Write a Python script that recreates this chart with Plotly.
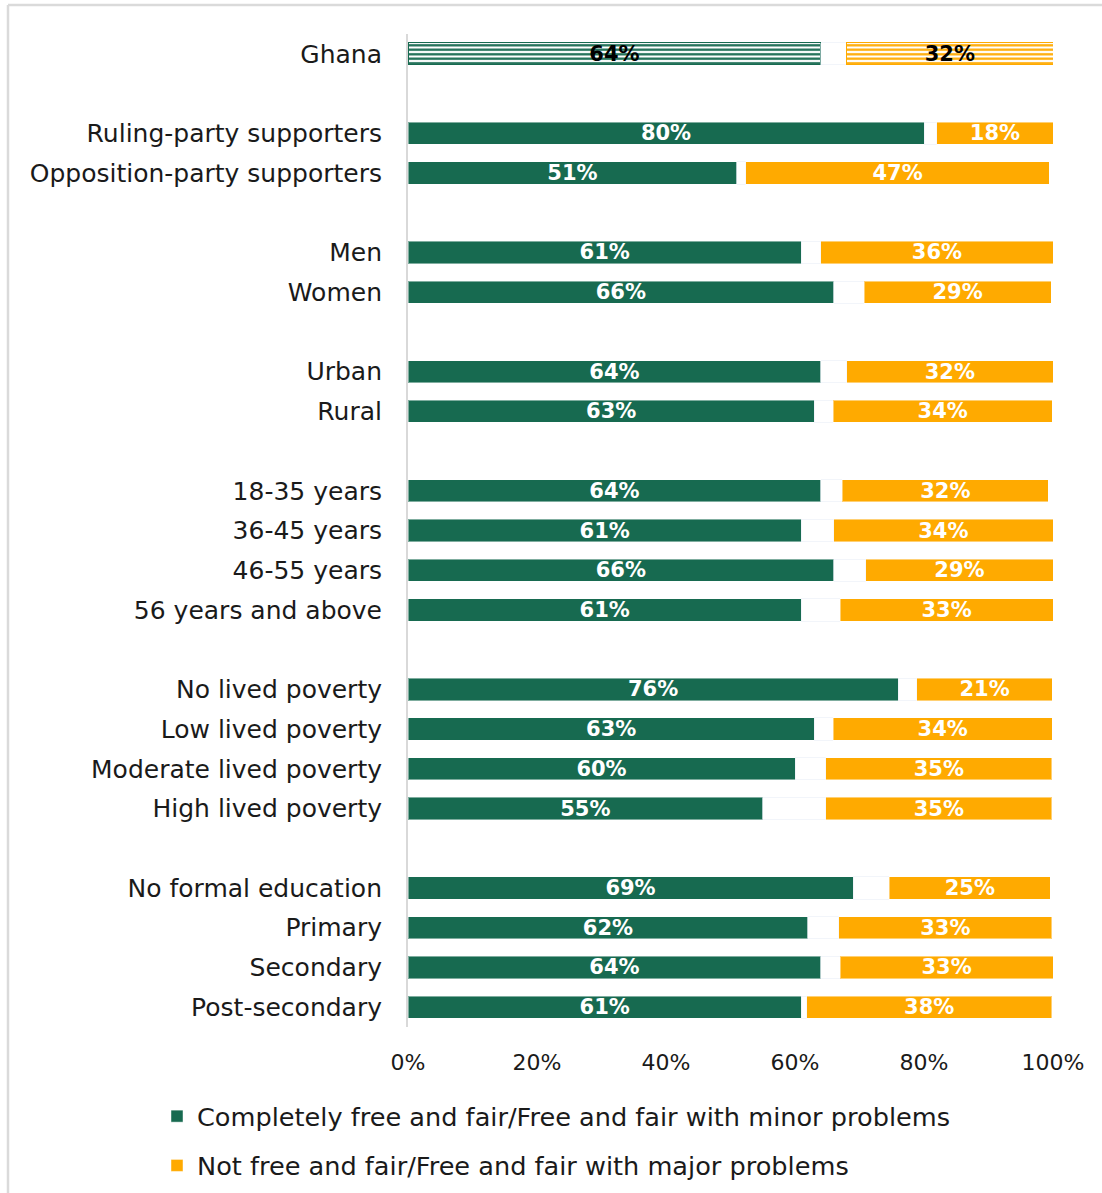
import plotly.graph_objects as go

# Row labels, grouped; a blank row separates consecutive groups
groups = [
    ["Ghana"],
    ["Ruling-party supporters", "Opposition-party supporters"],
    ["Men", "Women"],
    ["Urban", "Rural"],
    ["18-35 years", "36-45 years", "46-55 years", "56 years and above"],
    ["No lived poverty", "Low lived poverty", "Moderate lived poverty", "High lived poverty"],
    ["No formal education", "Primary", "Secondary", "Post-secondary"],
]

# Percentages per row (same order as the labels above)
free_fair = [64, 80, 51, 61, 66, 64, 63, 64, 61, 66, 61, 76, 63, 60, 55, 69, 62, 64, 61]
not_free = [32, 18, 47, 36, 29, 32, 34, 32, 34, 29, 33, 21, 34, 35, 35, 25, 33, 33, 38]
# Remaining responses (don't know / refused), left unlabelled between the two bars
other = [4, 2, 1.4, 3, 4.7, 4, 2.9, 3.3, 5, 5, 6, 2.9, 2.9, 4.8, 9.8, 5.6, 4.8, 3, 0.8]

series_names = [
    "Completely free and fair/Free and fair with minor problems",
    "Not free and fair/Free and fair with major problems",
]
x_ticks = [0, 20, 40, 60, 80, 100]

GREEN = "#176A50"
ORANGE = "#FFAA00"
FONT = "DejaVu Sans"

# Row positions on a numeric axis, leaving one empty slot between groups
labels, ypos = [], []
slot = 0
for g in groups:
    for name in g:
        labels.append(name)
        ypos.append(slot)
        slot += 1
    slot += 1
last_row = max(ypos)

ff_text = [f"{v}%" for v in free_fair]
nf_text = [f"{v}%" for v in not_free]

bar_w = 0.56
label_font = dict(color="white", family=FONT, size=21, weight="bold")
total_font = dict(color="black", family=FONT, size=21, weight="bold")
edge = dict(color="rgba(255,255,255,0.45)", width=1)
stripes = dict(shape="-", size=4.5, solidity=0.5, fgopacity=1,
               fillmode="replace", bgcolor="white")

fig = go.Figure()

# Sub-groups: solid bars with white labels
fig.add_trace(go.Bar(
    y=ypos[1:], x=free_fair[1:], text=ff_text[1:], orientation="h",
    name=series_names[0], marker=dict(color=GREEN, line=edge), width=bar_w,
    textposition="inside", insidetextanchor="middle", textangle=0,
    textfont=label_font, legendgroup="a", hoverinfo="skip",
))
# National total: striped bar with black label
fig.add_trace(go.Bar(
    y=ypos[:1], x=free_fair[:1], text=ff_text[:1], orientation="h",
    name=series_names[0],
    marker=dict(color=GREEN, line=dict(color=GREEN, width=1),
                pattern=dict(stripes, fgcolor=GREEN)),
    width=bar_w, textposition="inside", insidetextanchor="middle", textangle=0,
    textfont=total_font, legendgroup="a", showlegend=False, hoverinfo="skip",
))
# Invisible spacer for the remaining responses
fig.add_trace(go.Bar(
    y=ypos, x=other, orientation="h", name="other",
    marker=dict(color="rgba(0,0,0,0)"), width=bar_w,
    showlegend=False, hoverinfo="skip",
))
fig.add_trace(go.Bar(
    y=ypos[1:], x=not_free[1:], text=nf_text[1:], orientation="h",
    name=series_names[1], marker=dict(color=ORANGE, line=edge), width=bar_w,
    textposition="inside", insidetextanchor="middle", textangle=0,
    textfont=label_font, legendgroup="b", hoverinfo="skip",
))
fig.add_trace(go.Bar(
    y=ypos[:1], x=not_free[:1], text=nf_text[:1], orientation="h",
    name=series_names[1],
    marker=dict(color=ORANGE, line=dict(color=ORANGE, width=1),
                pattern=dict(stripes, fgcolor=ORANGE)),
    width=bar_w, textposition="inside", insidetextanchor="middle", textangle=0,
    textfont=total_font, legendgroup="b", showlegend=False, hoverinfo="skip",
))

W, H = 1102, 1193
L, R, T, B = 408, 49, 34, 166
pw, ph = W - L - R, H - T - B

def px_x(p):
    return (p - L) / pw

def px_y(p):
    return (H - B - p) / ph

# Light frame along the top and left edges of the figure
frame = dict(type="line", xref="paper", yref="paper",
             line=dict(color="#DADADA", width=2.5))
shapes = [
    dict(frame, x0=px_x(8), x1=px_x(W), y0=px_y(5), y1=px_y(5)),
    dict(frame, x0=px_x(8), x1=px_x(8), y0=px_y(5), y1=px_y(H)),
]

fig.update_layout(
    width=W, height=H,
    margin=dict(l=L, r=R, t=T, b=B, autoexpand=False),
    barmode="stack",
    plot_bgcolor="white", paper_bgcolor="white",
    font=dict(family=FONT, color="#1a1a1a"),
    uniformtext=dict(minsize=21, mode="show"),
    shapes=shapes,
    showlegend=True,
    legend=dict(
        xref="container", yref="container",
        x=157 / W, y=1 - 1093 / H, xanchor="left", yanchor="top",
        orientation="v", tracegroupgap=13,
        font=dict(size=25.6, family=FONT, color="#1a1a1a"),
        bgcolor="rgba(0,0,0,0)", itemclick=False,
    ),
    xaxis=dict(
        range=[0, 100], tickvals=x_ticks, ticktext=[f"{v}%" for v in x_ticks],
        showgrid=False, zeroline=False, showline=False, ticks="",
        tickfont=dict(size=22, family=FONT, color="#1a1a1a"),
        ticklabelstandoff=20, fixedrange=True,
    ),
    yaxis=dict(
        range=[last_row + 0.5, -0.5], tickvals=ypos, ticktext=labels,
        showgrid=False, zeroline=False, showline=True,
        linecolor="#D9D9D9", linewidth=2, ticks="",
        tickfont=dict(size=25, family=FONT, color="#1a1a1a"),
        ticklabelstandoff=19, fixedrange=True,
    ),
)

fig.write_html("out.html")
